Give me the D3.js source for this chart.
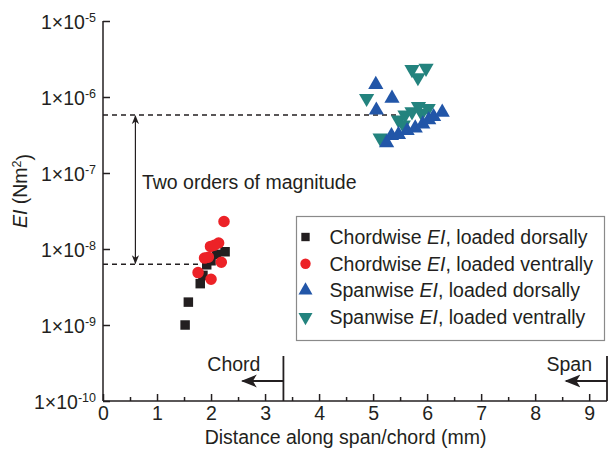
<!DOCTYPE html>
<html>
<head>
<meta charset="utf-8">
<script src="https://cdn.jsdelivr.net/npm/d3@7"></script>
<style>
  body { margin: 0; background: #fff; }
  text { font-family: "Liberation Sans", Arial, sans-serif; fill: #231f20; }
</style>
</head>
<body>
<div id="chart"></div>
<script>
// data (x in mm, EI in Nm^2)
const chordDorsalX = [1.52, 1.58, 1.80, 1.85, 1.92, 2.00, 2.10, 2.26];
const chordDorsalY = [1.0e-9, 2.0e-9, 3.5e-9, 4.5e-9, 6.2e-9, 7.0e-9, 8.5e-9, 9.2e-9];
const chordVentralX = [2.24, 1.99, 2.14, 2.06, 1.88, 2.19, 1.76, 2.00, 1.95];
const chordVentralY = [2.3e-8, 1.08e-8, 1.2e-8, 1.12e-8, 7.6e-9, 6.7e-9, 4.9e-9, 4.0e-9, 7.8e-9];
const spanDorsalX = [5.05, 5.35, 5.06, 5.25, 5.34, 5.47, 5.63, 5.78, 5.92, 6.03, 6.12, 6.28];
const spanDorsalY = [1.46e-6, 9.6e-7, 6.7e-7, 2.5e-7, 3.1e-7, 3.2e-7, 3.6e-7, 3.9e-7, 4.4e-7, 5.0e-7, 5.5e-7, 6.3e-7];
const spanVentralX = [4.88, 5.72, 5.98, 5.83, 5.13, 5.47, 5.59, 5.72, 5.84, 6.02, 5.56, 5.90];
const spanVentralY = [9.6e-7, 2.3e-6, 2.4e-6, 1.8e-6, 2.9e-7, 5.0e-7, 5.8e-7, 6.4e-7, 7.5e-7, 7.1e-7, 4.3e-7, 6.1e-7];

const yTicks = [-10, -9, -8, -7, -6, -5];
const xTicks = [0, 1, 2, 3, 4, 5, 6, 7, 8, 9];
const legendLabels = ['Chordwise', 'Chordwise', 'Spanwise', 'Spanwise'];
const legendLoads = ['loaded dorsally', 'loaded ventrally', 'loaded dorsally', 'loaded ventrally'];

const upperLevel = 5.8e-7, lowerLevel = 6.3e-9;
const chordEdge = 3.34, spanEdge = 9.33;

const svgWidth = 611, svgHeight = 452;
const margin = { top: 21, right: 4, bottom: 51, left: 103 };
const width = svgWidth - margin.left - margin.right;
const height = svgHeight - margin.top - margin.bottom;
const fs = '19.5px', fsSup = '12.5px';

const svg = d3.select('#chart').append('svg')
  .attr('width', svgWidth).attr('height', svgHeight)
  .append('g')
  .attr('transform', `translate(${margin.left},${margin.top})`);

const x = d3.scaleLinear().domain([0, spanEdge]).range([0, width]);
const y = d3.scaleLog().domain([1e-10, 1e-5]).range([height, 0]);

const ink = '#231f20';
const colors = ['#231f20', '#ec2227', '#2256a8', '#23837e'];

// dashed reference lines
svg.append('line')
  .attr('x1', 0).attr('x2', x(5.5)).attr('y1', y(upperLevel)).attr('y2', y(upperLevel))
  .attr('stroke', ink).attr('stroke-width', 1.5).attr('stroke-dasharray', '5,4');
svg.append('line')
  .attr('x1', 0).attr('x2', x(1.85)).attr('y1', y(lowerLevel)).attr('y2', y(lowerLevel))
  .attr('stroke', ink).attr('stroke-width', 1.5).attr('stroke-dasharray', '5,4');

// arrow heads
const defs = svg.append('defs');
defs.append('marker').attr('id', 'ah').attr('viewBox', '0 0 10 10')
  .attr('refX', 9).attr('refY', 5).attr('markerWidth', 9).attr('markerHeight', 9)
  .attr('markerUnits', 'userSpaceOnUse').attr('orient', 'auto-start-reverse')
  .append('path').attr('d', 'M0,1 L10,5 L0,9 L3,5 Z').attr('fill', ink);
defs.append('marker').attr('id', 'ah2').attr('viewBox', '0 0 10 10')
  .attr('refX', 9).attr('refY', 5).attr('markerWidth', 16).attr('markerHeight', 16)
  .attr('markerUnits', 'userSpaceOnUse').attr('orient', 'auto')
  .append('path').attr('d', 'M0,1 L10,5 L0,9 L2.5,5 Z').attr('fill', ink);

svg.append('line')
  .attr('x1', x(0.6)).attr('x2', x(0.6))
  .attr('y1', y(upperLevel) + 1).attr('y2', y(lowerLevel) - 1)
  .attr('stroke', ink).attr('stroke-width', 1.2)
  .attr('marker-start', 'url(#ah)').attr('marker-end', 'url(#ah)');

svg.append('text')
  .attr('x', x(0.72)).attr('y', y(1e-7) + 16)
  .style('font-size', fs)
  .text('Two orders of magnitude');

// markers
const sym = [d3.symbolSquare, d3.symbolCircle, d3.symbolTriangle, d3.symbolTriangle];
const sizes = [90, 105, 100, 100];
const groups = [
  { xs: chordDorsalX, ys: chordDorsalY, k: 0, rot: 0 },
  { xs: chordVentralX, ys: chordVentralY, k: 1, rot: 0 },
  { xs: spanVentralX, ys: spanVentralY, k: 3, rot: 180 },
  { xs: spanDorsalX, ys: spanDorsalY, k: 2, rot: 0 }
];
groups.forEach(g => {
  svg.selectAll(null)
    .data(g.xs.map((v, i) => [v, g.ys[i]]))
    .enter().append('path')
    .attr('d', d3.symbol().type(sym[g.k]).size(sizes[g.k]))
    .attr('transform', d => `translate(${x(d[0])},${y(d[1])}) rotate(${g.rot})`)
    .attr('fill', colors[g.k]);
});

// axes
const yAxis = svg.append('g')
  .call(d3.axisLeft(y).tickValues(yTicks.map(e => Math.pow(10, e))).tickSize(-7).tickFormat(''));
yAxis.select('.domain').attr('stroke', ink).attr('stroke-width', 1.5).attr('d', `M0,${height}V0`);
yAxis.selectAll('.tick line').attr('stroke', ink).attr('stroke-width', 1.5);
yAxis.selectAll('.tick').data(yTicks).append('text')
  .attr('x', -7).attr('dy', '0.36em').attr('text-anchor', 'end')
  .attr('fill', ink)
  .style('font-size', fs)
  .each(function(e) {
    const t = d3.select(this);
    t.append('tspan').text('1×10');
    t.append('tspan').attr('dy', '-0.55em').style('font-size', fsSup).text(String(e));
  });

const xAxis = svg.append('g').attr('transform', `translate(0,${height})`)
  .call(d3.axisBottom(x).tickValues(xTicks).tickSize(-7).tickPadding(4));
xAxis.select('.domain').attr('stroke', ink).attr('stroke-width', 1.5).attr('d', `M0,0H${width}`);
xAxis.selectAll('.tick line').attr('stroke', ink).attr('stroke-width', 1.5);
xAxis.selectAll('.tick text').style('font-size', fs).attr('fill', ink).attr('y', 19).attr('dy', null);

const xMinor = svg.append('g').attr('transform', `translate(0,${height})`)
  .call(d3.axisBottom(x).tickValues(d3.range(0.5, 9.4, 1)).tickSize(-4).tickFormat(''));
xMinor.select('.domain').remove();
xMinor.selectAll('.tick line').attr('stroke', ink).attr('stroke-width', 1.5);

// axis titles
svg.append('text')
  .attr('x', x(4.49)).attr('y', height + 43)
  .attr('text-anchor', 'middle').style('font-size', fs)
  .text('Distance along span/chord (mm)');

const yt = svg.append('text')
  .attr('transform', `translate(${-76},${y(1e-7) + 18}) rotate(-90)`)
  .attr('text-anchor', 'middle').style('font-size', fs);
yt.append('tspan').style('font-style', 'italic').text('EI');
yt.append('tspan').text(' (Nm');
yt.append('tspan').attr('dy', '-0.5em').style('font-size', fsSup).text('2');
yt.append('tspan').attr('dy', '0.5em').text(')');

// chord / span edge markers
[[chordEdge, 'Chord', 23], [spanEdge, 'Span', 15]].forEach(([edge, label, off]) => {
  svg.append('line')
    .attr('x1', x(edge)).attr('x2', x(edge)).attr('y1', height - 45).attr('y2', height)
    .attr('stroke', ink).attr('stroke-width', 1.8);
  svg.append('line')
    .attr('x1', x(edge)).attr('x2', x(edge) - 41).attr('y1', height - 20).attr('y2', height - 20)
    .attr('stroke', ink).attr('stroke-width', 1.8).attr('marker-end', 'url(#ah2)');
  svg.append('text')
    .attr('x', x(edge) - off).attr('y', height - 30)
    .attr('text-anchor', 'end').style('font-size', fs)
    .text(label);
});

// legend
const lg = svg.append('g').attr('transform', `translate(${296.5 - margin.left},${216.5 - margin.top})`);
lg.append('rect').attr('width', 308).attr('height', 124)
  .attr('fill', '#fff').attr('stroke', '#8a8a8a').attr('stroke-width', 1.2);
legendLabels.forEach((lab, i) => {
  const cy = 20.5 + i * 26.7;
  lg.append('path')
    .attr('d', d3.symbol().type(sym[i]).size(i === 0 ? 70 : 85))
    .attr('transform', `translate(9,${cy}) rotate(${i === 3 ? 180 : 0})`)
    .attr('fill', colors[i]);
  const t = lg.append('text').attr('x', 33).attr('y', cy).attr('dy', '0.36em').style('font-size', fs);
  t.append('tspan').text(lab + ' ');
  t.append('tspan').style('font-style', 'italic').text('EI');
  t.append('tspan').text(', ' + legendLoads[i]);
});
</script>
</body>
</html>
